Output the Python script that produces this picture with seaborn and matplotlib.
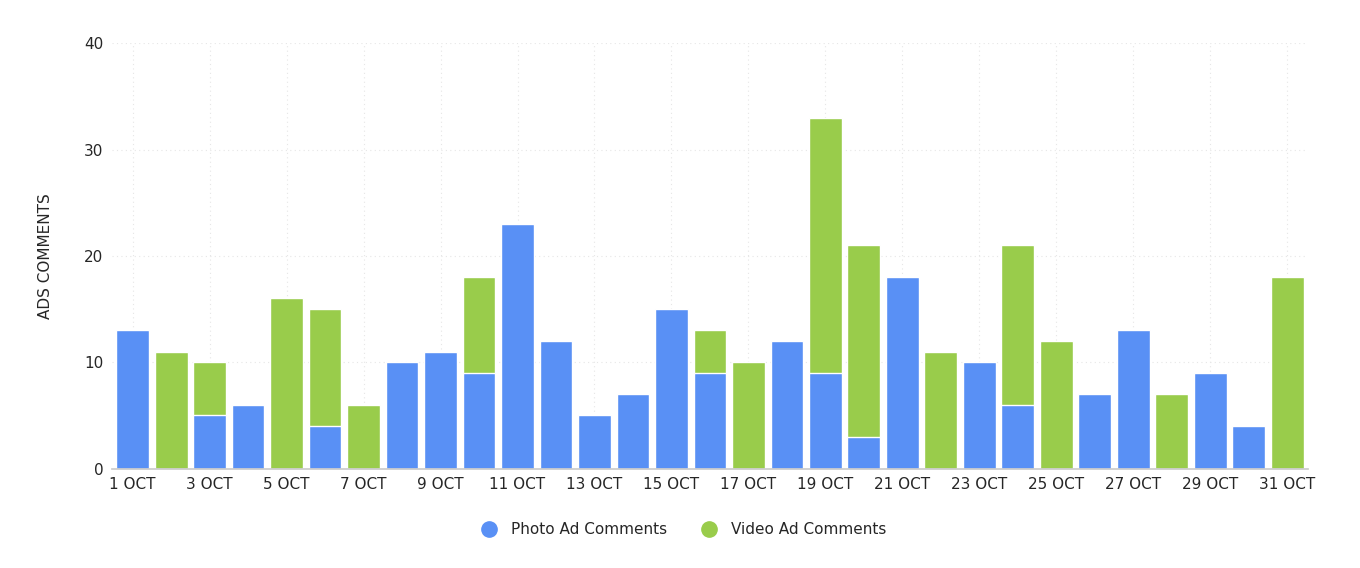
import pandas as pd
import seaborn as sns
import matplotlib.pyplot as plt
from matplotlib.lines import Line2D

# --- data ---
days = [f"{d} OCT" for d in range(1, 32)]
photo = [13, 0, 5, 6, 0, 4, 0, 10, 11, 9, 23, 12, 5, 7, 15, 9, 0, 12, 9, 3,
         18, 0, 10, 6, 0, 7, 13, 0, 9, 4, 0]
video = [0, 11, 5, 0, 16, 11, 6, 0, 0, 9, 0, 0, 0, 0, 0, 4, 10, 0, 24, 18,
         0, 11, 0, 15, 12, 0, 0, 7, 0, 0, 18]

BLUE = "#5990F5"
GREEN = "#99CC4B"

df = pd.DataFrame({"day": days, "photo": photo, "video": video})
df["total"] = df["photo"] + df["video"]

sns.set_theme(style="white", font="DejaVu Sans")
fig, ax = plt.subplots(figsize=(13.6, 5.68), dpi=100)
fig.subplots_adjust(left=0.082, right=0.962, top=0.924, bottom=0.175)

# stacked look: totals in green, photo part drawn over them in blue
sns.barplot(data=df, x="day", y="total", color=GREEN, saturation=1, width=0.85, ax=ax)
sns.barplot(data=df, x="day", y="photo", color=BLUE, saturation=1, width=0.85, ax=ax)

ax.set_ylim(0, 40)
ax.set_yticks([0, 10, 20, 30, 40])
ax.set_xlim(-0.55, 30.55)
ax.set_xticks(range(0, 31, 2))
ax.set_xticklabels(days[::2])
ax.tick_params(axis="both", labelsize=11, length=0, pad=6)
ax.set_xlabel("")
ax.set_ylabel("ADS COMMENTS", fontsize=11, labelpad=22)

ax.grid(True, axis="both", color="#e6e6e6", linestyle=(0, (1, 3)), linewidth=0.8)
ax.set_axisbelow(True)
for s in ["top", "right", "left"]:
    ax.spines[s].set_visible(False)
ax.spines["bottom"].set_color("#cccccc")

handles = [Line2D([], [], marker="o", linestyle="", markersize=11, color=BLUE),
           Line2D([], [], marker="o", linestyle="", markersize=11, color=GREEN)]
fig.legend(handles, ["Photo Ad Comments", "Video Ad Comments"], loc="lower center",
           ncol=2, frameon=False, fontsize=11, bbox_to_anchor=(0.5, 0.03),
           handletextpad=0.4, columnspacing=1.8)

fig.savefig("out.png", dpi=100)
